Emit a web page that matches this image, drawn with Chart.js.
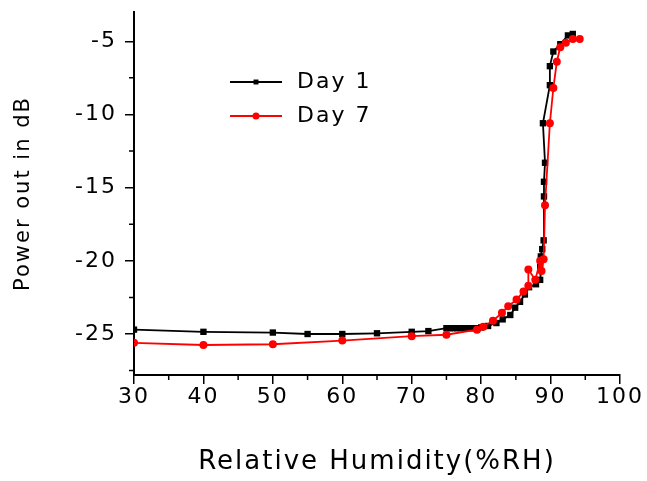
<!DOCTYPE html>
<html>
<head>
<meta charset="utf-8">
<title>Power out vs Relative Humidity</title>
<script src="https://cdn.jsdelivr.net/npm/chart.js@4.4.1/dist/chart.umd.min.js"></script>
<style>
    html, body { margin: 0; padding: 0; background: #fff; }
    #wrap { width: 647px; height: 481px; }
</style>
</head>
<body>
<div id="wrap"><canvas id="humChart"></canvas></div>
<script>
// data
const seriesNames = ["Day 1", "Day 7"];

const day1Humidity = [30, 40, 50, 55, 60, 65, 70, 72.4, 75, 75.5, 76, 76.5, 77, 77.5, 78, 78.5, 79, 79.5, 80, 81, 82.2, 83.1, 84.2, 84.9, 85.6, 86.3, 86.9, 87.9, 88.5, 88.5, 88.6, 88.8, 89.0, 89.05, 89.05, 89.2, 88.9, 89.9, 89.9, 90.4, 91.4, 92.5, 93.2];
const day1Power = [-24.7, -24.85, -24.9, -25.0, -25.0, -24.95, -24.85, -24.8, -24.6, -24.6, -24.6, -24.6, -24.6, -24.6, -24.6, -24.6, -24.6, -24.6, -24.55, -24.45, -24.25, -24.0, -23.7, -23.2, -22.8, -22.3, -21.8, -21.6, -21.3, -20.4, -19.7, -19.2, -18.6, -15.6, -14.6, -13.3, -10.6, -8.0, -6.7, -5.7, -5.2, -4.6, -4.5];

const day7Humidity = [30, 40, 50, 60, 70, 75, 79.4, 80.3, 81.7, 83.0, 83.9, 85.1, 86.1, 86.8, 86.8, 87.8, 88.5, 88.7, 89.0, 89.2, 89.9, 90.4, 90.9, 91.4, 92.2, 93.2, 94.2];
const day7Power = [-25.6, -25.75, -25.7, -25.45, -25.15, -25.05, -24.7, -24.5, -24.1, -23.55, -23.1, -22.65, -22.1, -21.7, -20.6, -21.3, -20.0, -20.7, -19.9, -16.2, -10.6, -8.2, -6.4, -5.4, -5.1, -4.85, -4.85];

const yTickValues = [-25, -20, -15, -10, -5];
const xMinorTicks = [35, 45, 55, 65, 75, 85, 95];
const yMinorTicks = [-27.5, -22.5, -17.5, -12.5, -7.5];

function toPoints(xs, ys) {
    return xs.map((x, i) => ({ x: x, y: ys[i] }));
}

// text in the original is drawn a bit wide
const textSpacing = {
    id: "textSpacing",
    beforeDraw(chart) {
        chart.ctx.letterSpacing = "2px";
    }
};

// small in-between ticks on both axes
const minorTicks = {
    id: "minorTicks",
    afterDraw(chart) {
        const ctx = chart.ctx;
        const xs = chart.scales.x;
        const ys = chart.scales.y;
        ctx.save();
        ctx.strokeStyle = "#000";
        ctx.lineWidth = 1.5;
        ctx.beginPath();
        xMinorTicks.forEach((v) => {
            const px = xs.getPixelForValue(v);
            ctx.moveTo(px, xs.top);
            ctx.lineTo(px, xs.top + 5);
        });
        yMinorTicks.forEach((v) => {
            const py = ys.getPixelForValue(v);
            ctx.moveTo(ys.right, py);
            ctx.lineTo(ys.right - 5, py);
        });
        ctx.stroke();
        ctx.restore();
    }
};

// legend box sits inside the plot, upper left
const insideLegend = {
    id: "insideLegend",
    afterDraw(chart) {
        const ctx = chart.ctx;
        const area = chart.chartArea;
        chart.data.datasets.forEach((ds, i) => {
            const y = area.top + 70 + i * 34;
            const x0 = area.left + 96;
            ctx.save();
            ctx.strokeStyle = ds.borderColor;
            ctx.lineWidth = ds.borderWidth;
            ctx.beginPath();
            ctx.moveTo(x0, y);
            ctx.lineTo(x0 + 52, y);
            ctx.stroke();
            ctx.fillStyle = ds.borderColor;
            Chart.helpers.drawPoint(ctx, { pointStyle: ds.pointStyle, radius: 3.5, borderWidth: 0, rotation: 0 }, x0 + 26, y);
            ctx.fillStyle = "#000";
            ctx.font = "22px 'DejaVu Sans'";
            ctx.textBaseline = "middle";
            ctx.textAlign = "left";
            ctx.fillText(ds.label, x0 + 67, y);
            ctx.restore();
        });
    }
};

const ctx = document.getElementById("humChart").getContext("2d");
new Chart(ctx, {
    type: "line",
    data: {
        datasets: [
            {
                label: seriesNames[0],
                data: toPoints(day1Humidity, day1Power),
                borderColor: "#000000",
                backgroundColor: "#000000",
                borderWidth: 1.8,
                pointStyle: "rect",
                pointRadius: 4.5,
                pointBorderWidth: 0,
                tension: 0,
                order: 2
            },
            {
                label: seriesNames[1],
                data: toPoints(day7Humidity, day7Power),
                borderColor: "#ff0000",
                backgroundColor: "#ff0000",
                borderWidth: 1.8,
                pointStyle: "circle",
                pointRadius: 4,
                pointBorderWidth: 0,
                tension: 0,
                order: 1
            }
        ]
    },
    options: {
        responsive: true,
        maintainAspectRatio: false,
        animation: false,
        layout: { padding: { left: 0, top: 12, right: 27, bottom: 0 } },
        plugins: {
            legend: { display: false },
            tooltip: { enabled: false }
        },
        scales: {
            x: {
                type: "linear",
                min: 30,
                max: 100,
                border: { display: true, color: "#000", width: 2 },
                grid: { drawOnChartArea: false, color: "#000", lineWidth: 1.5, tickLength: 9 },
                ticks: {
                    stepSize: 10,
                    color: "#000",
                    padding: 0,
                    maxRotation: 0,
                    font: { family: "'DejaVu Sans'", size: 22 }
                },
                title: {
                    display: true,
                    text: "Relative Humidity(%RH)",
                    color: "#000",
                    font: { family: "'DejaVu Sans'", size: 26 },
                    padding: { top: 0, bottom: 3 }
                },
                afterFit(scale) {
                    scale.height = 106;
                    scale.paddingLeft = 0;
                    scale.paddingRight = 0;
                }
            },
            y: {
                type: "linear",
                min: -27.8,
                max: -3,
                border: { display: true, color: "#000", width: 2 },
                grid: { drawOnChartArea: false, color: "#000", lineWidth: 1.5, tickLength: 9 },
                ticks: {
                    color: "#000",
                    padding: 8,
                    font: { family: "'DejaVu Sans'", size: 22 }
                },
                afterBuildTicks(scale) {
                    scale.ticks = yTickValues.map((v) => ({ value: v }));
                },
                title: {
                    display: true,
                    text: "Power out in dB",
                    color: "#000",
                    font: { family: "'DejaVu Sans'", size: 21 },
                    padding: { top: 11, bottom: 0 }
                },
                afterFit(scale) {
                    scale.width = 134;
                    scale.paddingTop = 0;
                    scale.paddingBottom = 0;
                }
            }
        }
    },
    plugins: [textSpacing, minorTicks, insideLegend]
});
</script>
</body>
</html>
